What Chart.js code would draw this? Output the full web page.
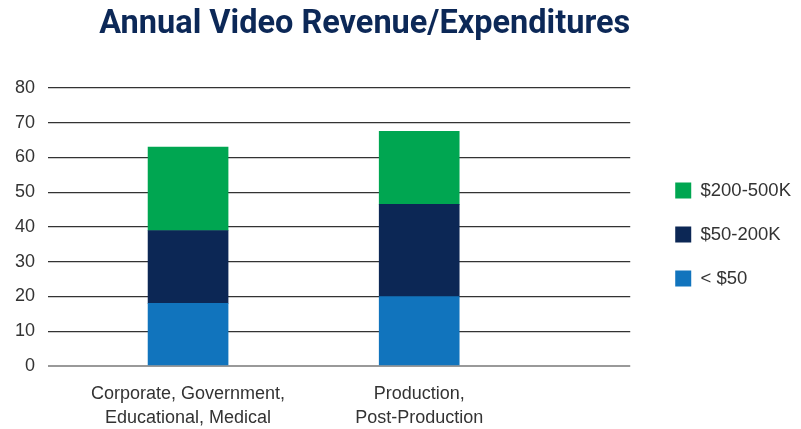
<!DOCTYPE html>
<html>
<head>
<meta charset="utf-8">
<title>Annual Video Revenue/Expenditures</title>
<script src="https://cdn.jsdelivr.net/npm/chart.js@4/dist/chart.umd.min.js"></script>
<style>
  html, body { margin: 0; padding: 0; background: #fff; }
  #wrap { width: 801px; height: 429px; }
</style>
</head>
<body>
<div id="wrap"><canvas id="revenueChart"></canvas></div>
<script>
// Segments and revenue bands
const categories = [
    ['Corporate, Government,', 'Educational, Medical'],
    ['Production,', 'Post-Production']
];
const bandLabels = ['< $50', '$50-200K', '$200-500K'];
const lowBand = [18, 20];
const midBand = [21, 26.5];
const highBand = [24, 21];
const yTicks = [0, 10, 20, 30, 40, 50, 60, 70, 80];

const bandColors = ['#1174bd', '#0c2755', '#00a651'];

// slide the legend block a bit right/down from where the layout puts it
const legendNudge = {
    id: 'legendNudge',
    afterLayout(chart) {
        const legend = chart.legend;
        legend.left += 19.5;
        legend.right += 19.5;
        legend.top += 7.5;
        legend.bottom += 7.5;
    }
};

function toPoints(values) {
    return values.map((v, i) => ({ x: i, y: v }));
}

const datasets = [lowBand, midBand, highBand].map((values, i) => ({
    label: bandLabels[i],
    data: toPoints(values),
    backgroundColor: bandColors[i],
    borderWidth: 0,
    barThickness: 80
}));

new Chart(document.getElementById('revenueChart'), {
    type: 'bar',
    data: { datasets },
    plugins: [legendNudge],
    options: {
        responsive: true,
        maintainAspectRatio: false,
        animation: false,
        layout: { padding: { left: 0, right: 19.5, top: 0, bottom: 0 } },
        plugins: {
            title: {
                display: true,
                text: 'Annual Video Revenue/Expenditures',
                align: 'end',
                fullSize: false,
                color: '#0c2857',
                font: { family: 'Roboto', size: 32.5, weight: 'bold' },
                padding: { top: 5, bottom: 44 }
            },
            legend: {
                position: 'right',
                fullSize: false,
                reverse: true,
                labels: {
                    boxWidth: 16,
                    boxHeight: 16,
                    padding: 25.5,
                    color: '#333',
                    font: { family: 'Liberation Sans', size: 18.5 }
                }
            },
            tooltip: { enabled: false }
        },
        scales: {
            x: {
                type: 'linear',
                stacked: true,
                offset: false,
                min: -0.606,
                max: 1.913,
                grid: { display: false },
                border: { display: false },
                afterBuildTicks(scale) {
                    scale.ticks = categories.map((_, i) => ({ value: i }));
                },
                afterFit(scale) { scale.height = 63; },
                ticks: {
                    autoSkip: false,
                    maxRotation: 0,
                    padding: 9,
                    color: '#333',
                    font: { family: 'Liberation Sans', size: 18, lineHeight: 1.28 },
                    callback: (value) => categories[value]
                }
            },
            y: {
                stacked: true,
                min: 0,
                max: 80,
                afterFit(scale) { scale.width = 48; },
                afterBuildTicks(scale) {
                    scale.ticks = yTicks.map(v => ({ value: v }));
                },
                border: { display: false },
                grid: {
                    drawTicks: false,
                    color: (ctx) => ctx.tick && ctx.tick.value === 0 ? '#999' : '#333',
                    lineWidth: (ctx) => ctx.tick && ctx.tick.value === 0 ? 2 : 1.2
                },
                ticks: {
                    padding: 13,
                    color: '#333',
                    font: { family: 'Liberation Sans', size: 18 }
                }
            }
        }
    }
});
</script>
</body>
</html>
